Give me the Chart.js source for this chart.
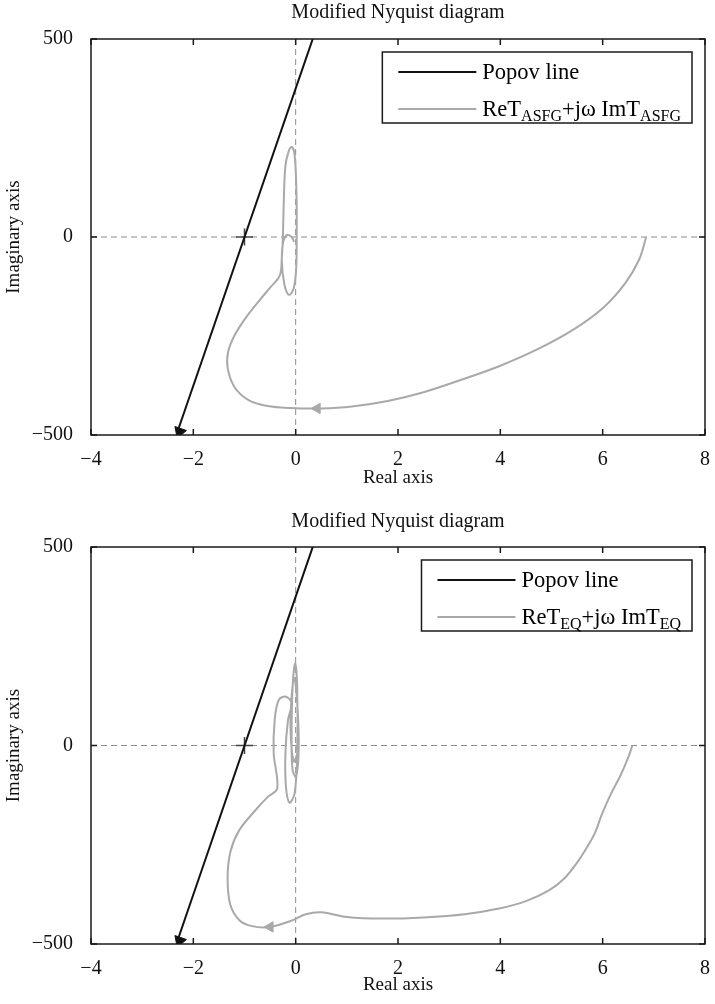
<!DOCTYPE html>
<html>
<head>
<meta charset="utf-8">
<title>Modified Nyquist diagram</title>
<script src="https://cdn.jsdelivr.net/npm/chart.js@4"></script>
<style>
  body { margin: 0; background: #fff; }
  canvas { position: absolute; left: 0; }
  #nyqTop { top: 0; }
  #nyqBottom { top: 508px; }
</style>
</head>
<body>
<canvas id="nyqTop" width="715" height="495"></canvas>
<canvas id="nyqBottom" width="715" height="496"></canvas>
<script>
// axis ticks
const reTicks = [-4, -2, 0, 2, 4, 6, 8];
const imTicks = [-500, 0, 500];

// Popov line (both plots) and its end marker
const popovRe = [-2.3, 0.4];
const popovIm = [-488, 525];
const popovArrow = [-2.27, -492];
const critical = [-1, 0];

// ReT_ASFG + jw ImT_ASFG
const reAsfg = [6.85, 6.72, 6.45, 6.0, 5.45, 4.75, 4.0, 3.25, 2.5, 1.8, 1.1, 0.5, -0.1, -0.55, -0.92,
  -1.2, -1.33, -1.32, -1.2, -0.98, -0.72, -0.5, -0.31, -0.27, -0.25, -0.23, -0.2, -0.14, -0.08, -0.03,
  0.0, 0.02, 0.02, 0.01, -0.04, -0.13, -0.22, -0.27, -0.24, -0.16, -0.08, -0.03];
const imAsfg = [0, -55, -115, -180, -232, -282, -325, -360, -392, -414, -428, -433, -432, -427, -412,
  -378, -330, -290, -250, -205, -162, -128, -97, -50, 0, 100, 180, 215, 227, 215,
  170, 80, 0, -80, -130, -146, -120, -60, -10, 5, 0, -12];
const arrowAsfg = [0.42, -433];

// ReT_EQ + jw ImT_EQ
const reEq = [6.58, 6.5, 6.35, 6.15, 5.98, 5.85, 5.7, 5.5, 5.25, 4.95, 4.5, 4.0, 3.3, 2.5, 1.7, 1.0,
  0.5, 0.2, -0.1, -0.5, -0.85, -1.1, -1.28, -1.33, -1.27, -1.1, -0.8, -0.55, -0.36,
  -0.43, -0.41, -0.33, -0.19, -0.08, -0.15, -0.2, -0.19, -0.12, -0.02, 0.03, 0.03, -0.01,
  -0.06, -0.08, -0.06, 0.01, 0.06, 0.03, -0.03, -0.08, -0.1, -0.04, 0.03, 0.01];
const imEq = [0, -30, -75, -125, -175, -220, -255, -295, -335, -365, -392, -410, -425, -433, -436, -432,
  -420, -425, -442, -457, -455, -440, -400, -330, -265, -213, -165, -130, -108,
  -19, 64, 115, 123, 107, 64, -19, -104, -144, -120, -19, 147, 208,
  147, 21, -62, -79, -4, 107, 170, 122, 39, -40, -20, 0];
const arrowEq = [-0.5, -457];

const serif = 'Liberation Serif, Times New Roman, serif';
const curveGray = '#a9a9a9';

function pts(xs, ys) {
  return xs.map((v, i) => ({ x: v, y: ys[i] }));
}

function minus(v) {
  return String(v).replace('-', '\u2212');
}

// dashed zero lines, box and inward tick marks
const frame = {
  id: 'frame',
  beforeDatasetsDraw(chart) {
    const { ctx, chartArea: a, scales: { x, y } } = chart;
    const x0 = x.getPixelForValue(0), y0 = y.getPixelForValue(0);
    ctx.save();
    ctx.strokeStyle = '#8c8c8c';
    ctx.lineWidth = 1;
    ctx.setLineDash([6, 4]);
    ctx.beginPath();
    ctx.moveTo(x0, a.top); ctx.lineTo(x0, a.bottom);
    ctx.moveTo(a.left, y0); ctx.lineTo(a.right, y0);
    ctx.stroke();
    ctx.restore();
  },
  afterDatasetsDraw(chart) {
    const { ctx, chartArea: a, scales: { x, y } } = chart;
    ctx.save();
    ctx.strokeStyle = '#1a1a1a';
    ctx.lineWidth = 1.5;
    ctx.strokeRect(a.left, a.top, a.right - a.left, a.bottom - a.top);
    ctx.beginPath();
    reTicks.forEach(v => {
      const px = x.getPixelForValue(v);
      ctx.moveTo(px, a.bottom); ctx.lineTo(px, a.bottom - 6);
      ctx.moveTo(px, a.top); ctx.lineTo(px, a.top + 6);
    });
    imTicks.forEach(v => {
      const py = y.getPixelForValue(v);
      ctx.moveTo(a.left, py); ctx.lineTo(a.left + 6, py);
      ctx.moveTo(a.right, py); ctx.lineTo(a.right - 6, py);
    });
    ctx.stroke();
    ctx.restore();
  }
};

// boxed legend with subscripted labels
const subLegend = {
  id: 'subLegend',
  afterDraw(chart, args, opts) {
    const { ctx, chartArea: a } = chart;
    const big = '22.5px ' + serif, small = '16px ' + serif;
    const width = parts => parts.reduce((w, p) => {
      ctx.font = p.sub ? small : big;
      return w + ctx.measureText(p.t).width;
    }, 0);
    const textW = Math.max(...opts.items.map(it => width(it.parts)));
    const right = a.right - 13, top = a.top + 13;
    const left = right - (16 + 78 + 6 + textW + 11);
    ctx.save();
    ctx.fillStyle = '#fff';
    ctx.fillRect(left, top, right - left, 71);
    ctx.strokeStyle = '#1a1a1a';
    ctx.lineWidth = 1.5;
    ctx.strokeRect(left, top, right - left, 71);
    opts.items.forEach((it, i) => {
      const cy = top + 20 + i * 37;
      ctx.strokeStyle = it.color;
      ctx.lineWidth = 2;
      ctx.beginPath();
      ctx.moveTo(left + 16, cy); ctx.lineTo(left + 94, cy);
      ctx.stroke();
      let tx = left + 100;
      ctx.fillStyle = '#000';
      ctx.textBaseline = 'alphabetic';
      it.parts.forEach(p => {
        ctx.font = p.sub ? small : big;
        ctx.fillText(p.t, tx, cy + 7 + (p.sub ? 5 : 0));
        tx += ctx.measureText(p.t).width;
      });
    });
    ctx.restore();
  }
};

function makeChart(id, re, im, arrow, sub, titleTop, xTitleBottom, chartBottom) {
  const canvas = document.getElementById(id);
  return new Chart(canvas, {
    type: 'scatter',
    data: {
      datasets: [
        {
          data: pts(popovRe, popovIm), showLine: true, borderColor: '#111', borderWidth: 2,
          pointRadius: 0, tension: 0
        },
        {
          data: [{ x: popovArrow[0], y: popovArrow[1] }], pointStyle: 'triangle', rotation: 199,
          pointRadius: 7, backgroundColor: '#111', borderColor: '#111', borderWidth: 1
        },
        {
          data: [{ x: critical[0], y: critical[1] }], pointStyle: 'cross', pointRadius: 8.5,
          borderColor: '#444', borderWidth: 1.5
        },
        {
          data: pts(re, im), showLine: true, borderColor: curveGray, borderWidth: 2,
          pointRadius: 0, tension: 0.35
        },
        {
          data: [{ x: arrow[0], y: arrow[1] }], pointStyle: 'triangle', rotation: 270,
          pointRadius: 6, backgroundColor: curveGray, borderColor: curveGray, borderWidth: 1
        }
      ]
    },
    options: {
      responsive: false,
      animation: false,
      events: [],
      layout: { padding: { left: 0, right: 6, top: 0, bottom: 0 } },
      plugins: {
        legend: { display: false },
        tooltip: { enabled: false },
        title: {
          display: true, fullSize: false, text: 'Modified Nyquist diagram', color: '#111',
          font: { family: serif, size: 20, weight: 'normal' },
          padding: { top: titleTop, bottom: 39 - 24 - titleTop }
        },
        subLegend: {
          items: [
            { color: '#111', parts: [{ t: 'Popov line' }] },
            { color: curveGray, parts: [{ t: 'ReT' }, { t: sub, sub: true }, { t: '+j\u03c9 ImT' }, { t: sub, sub: true }] }
          ]
        }
      },
      scales: {
        x: {
          type: 'linear', min: -4, max: 8,
          afterBuildTicks: s => { s.ticks = reTicks.map(v => ({ value: v })); },
          afterFit: s => {
            s.height = canvas.height - chartBottom;
            s.paddingRight = 0;
          },
          grid: { display: false }, border: { display: false },
          ticks: {
            autoSkip: false, maxRotation: 0, padding: 5, color: '#111',
            font: { family: serif, size: 20 }, callback: v => minus(v)
          },
          title: {
            display: true, text: 'Real axis', color: '#111',
            font: { family: serif, size: 19 }, padding: { top: 0, bottom: xTitleBottom }
          }
        },
        y: {
          type: 'linear', min: -500, max: 500,
          afterBuildTicks: s => { s.ticks = imTicks.map(v => ({ value: v })); },
          afterFit: s => { s.width = 91; },
          grid: { display: false }, border: { display: false },
          ticks: {
            autoSkip: false, padding: 10, color: '#111',
            font: { family: serif, size: 20 }, callback: v => minus(v)
          },
          title: {
            display: true, text: 'Imaginary axis', color: '#111',
            font: { family: serif, size: 19 }, padding: { top: 3, bottom: 0 }
          }
        }
      }
    },
    plugins: [frame, subLegend]
  });
}

makeChart('nyqTop', reAsfg, imAsfg, arrowAsfg, 'ASFG', 0.5, 5.6, 435);
makeChart('nyqBottom', reEq, imEq, arrowEq, 'EQ', 2, 7.6, 436);
</script>
</body>
</html>
